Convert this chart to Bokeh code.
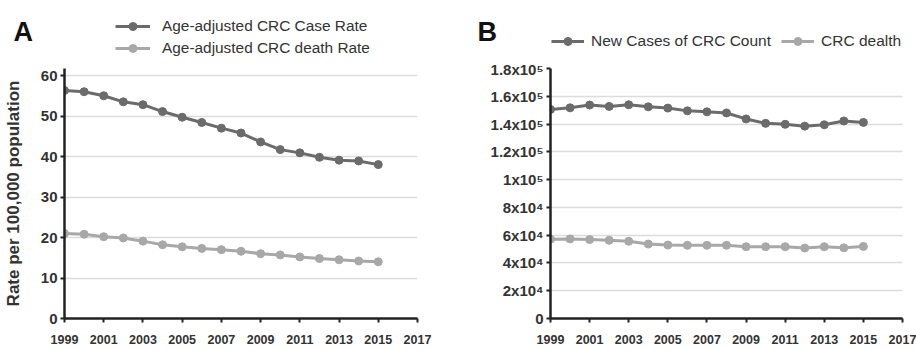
from bokeh.plotting import figure
from bokeh.layouts import row, column
from bokeh.models import Legend, LegendItem, Label, FixedTicker, Range1d
from bokeh.embed import file_html
from bokeh.resources import INLINE

# ---- data ----
years = list(range(1999, 2016))
case_rate = [56.3, 56.0, 55.0, 53.5, 52.8, 51.1, 49.7, 48.4, 47.0, 45.8,
             43.6, 41.7, 40.9, 39.8, 39.1, 38.9, 38.0]
death_rate = [21.0, 20.8, 20.2, 19.9, 19.1, 18.2, 17.7, 17.3, 17.0, 16.6,
              16.0, 15.7, 15.2, 14.8, 14.5, 14.2, 14.0]
new_cases = [150500, 151700, 153700, 152700, 153900, 152400, 151500, 149500,
             148800, 148000, 143700, 140500, 139800, 138500, 139500, 142200, 141200]
crc_deaths = [57100, 57300, 56800, 56300, 55600, 53600, 52900, 52700, 52700,
              52700, 51700, 51700, 51700, 50700, 51700, 50900, 51900]

x_ticks = [1999, 2001, 2003, 2005, 2007, 2009, 2011, 2013, 2015, 2017]
a_yticks = [0, 10, 20, 30, 40, 50, 60]
b_yticks = [0, 20000, 40000, 60000, 80000, 100000, 120000, 140000, 160000, 180000]
b_ytick_labels = ["0", "2x10\u2074", "4x10\u2074", "6x10\u2074", "8x10\u2074",
                  "1x10\u2075", "1.2x10\u2075", "1.4x10\u2075", "1.6x10\u2075", "1.8x10\u2075"]

legend_a = ["Age-adjusted CRC Case Rate", "Age-adjusted CRC death Rate"]
legend_b = ["New Cases of CRC Count", "CRC dealth"]
panel_labels = ["A", "B"]

DARK = "#6b6b6b"
LIGHT = "#a8a8a8"
FONT = "Liberation Sans"
TXT = "#333333"


def style(p, ylabel_size):
    p.xgrid.visible = False
    p.ygrid.grid_line_color = "#dcdcdc"
    p.ygrid.grid_line_width = 1.5
    p.outline_line_color = None
    p.background_fill_color = "white"
    p.border_fill_color = "white"
    for ax in (p.xaxis[0], p.yaxis[0]):
        ax.axis_line_color = "#222222"
        ax.axis_line_width = 2.5
        ax.major_tick_line_color = "#222222"
        ax.major_tick_line_width = 2
        ax.major_tick_out = 4
        ax.major_tick_in = 0
        ax.minor_tick_line_color = None
        ax.major_label_text_font = FONT
        ax.major_label_text_font_style = "bold"
        ax.major_label_text_color = TXT
    p.xaxis[0].major_label_standoff = 12
    p.yaxis[0].major_label_standoff = 3
    p.xaxis[0].major_label_text_font_size = "12.5px"
    p.yaxis[0].major_label_text_font_size = ylabel_size
    p.xaxis[0].ticker = FixedTicker(ticks=x_ticks)


def add_series(p, x, y, color):
    r1 = p.line(x, y, line_color=color, line_width=3)
    r2 = p.scatter(x, y, size=8, fill_color=color, line_color=color)
    return [r1, r2]


MAIN_H = 290
HEAD_H = 60

# ---- header (panel letters + legends) ----
hd = figure(width=916, height=HEAD_H, output_backend="svg",
            toolbar_location=None, x_range=Range1d(0, 1), y_range=Range1d(0, 1),
            min_border=0, min_border_left=0, min_border_right=0,
            min_border_top=0, min_border_bottom=0)
hd.axis.visible = False
hd.grid.visible = False
hd.outline_line_color = None
hd.background_fill_color = "white"
hd.border_fill_color = "white"

# proxy renderers (outside the header's view) used only for legend glyphs
ha1 = add_series(hd, years, case_rate, DARK)
ha2 = add_series(hd, years, death_rate, LIGHT)
hb1 = add_series(hd, years, new_cases, DARK)
hb2 = add_series(hd, years, crc_deaths, LIGHT)

leg_a = Legend(items=[LegendItem(label=legend_a[0], renderers=ha1),
                      LegendItem(label=legend_a[1], renderers=ha2)],
               location=(115, 2), orientation="vertical",
               padding=0, margin=0, spacing=2, glyph_width=35, glyph_height=20,
               label_height=20, label_standoff=12, border_line_color=None,
               background_fill_alpha=0, label_text_font=FONT,
               label_text_font_size="15.4px", label_text_color=TXT)
hd.add_layout(leg_a, "center")

leg_b = Legend(items=[LegendItem(label=legend_b[0], renderers=hb1),
                      LegendItem(label=legend_b[1], renderers=hb2)],
               location=(551, 9), orientation="horizontal",
               padding=0, margin=0, spacing=10, glyph_width=33, glyph_height=20,
               label_height=20, label_standoff=7, border_line_color=None,
               background_fill_alpha=0, label_text_font=FONT,
               label_text_font_size="15.5px", label_text_color=TXT)
hd.add_layout(leg_b, "center")

hd.add_layout(Label(x=13, y=29, x_units="screen", y_units="screen", text=panel_labels[0],
                    text_font=FONT, text_font_style="bold", text_font_size="27px",
                    text_color="#111111", text_baseline="alphabetic"))
hd.add_layout(Label(x=477, y=29, x_units="screen", y_units="screen", text=panel_labels[1],
                    text_font=FONT, text_font_style="bold", text_font_size="27px",
                    text_color="#111111", text_baseline="alphabetic"))

# ---- Panel A ----
pa = figure(width=458, height=MAIN_H, output_backend="svg",
            toolbar_location=None, x_range=Range1d(1999, 2017),
            y_range=Range1d(0, 61.73), min_border_left=63, min_border_right=41,
            min_border_top=8, min_border_bottom=32)
style(pa, "15px")
pa.yaxis[0].ticker = FixedTicker(ticks=a_yticks)
pa.yaxis[0].axis_label = "Rate per 100,000 population"
pa.yaxis[0].axis_label_text_font = FONT
pa.yaxis[0].axis_label_text_font_style = "bold"
pa.yaxis[0].axis_label_text_font_size = "17px"
pa.yaxis[0].axis_label_text_color = TXT
pa.yaxis[0].axis_label_standoff = 15
add_series(pa, years, case_rate, DARK)
add_series(pa, years, death_rate, LIGHT)

# ---- Panel B ----
pb = figure(width=458, height=MAIN_H, output_backend="svg",
            toolbar_location=None, x_range=Range1d(1999, 2017),
            y_range=Range1d(0, 180000), min_border_left=92, min_border_right=14,
            min_border_top=8, min_border_bottom=32)
style(pb, "15px")
pb.yaxis[0].ticker = FixedTicker(ticks=b_yticks)
pb.yaxis[0].major_label_overrides = {t: l for t, l in zip(b_yticks, b_ytick_labels)}
add_series(pb, years, new_cases, DARK)
add_series(pb, years, crc_deaths, LIGHT)

layout = column(hd, row(pa, pb, spacing=0), spacing=0)
open("out.html", "w").write(file_html(layout, INLINE))
